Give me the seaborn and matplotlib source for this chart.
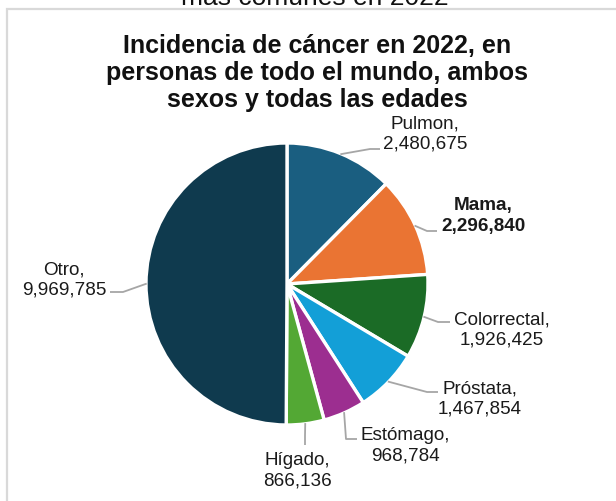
import numpy as np
import matplotlib
matplotlib.use("Agg")
import matplotlib.pyplot as plt
import seaborn as sns
from matplotlib.patches import Rectangle

sns.set_theme(style="white")
plt.rcParams['font.family'] = ['Liberation Sans', 'DejaVu Sans']

# ---- data ----
categories = ["Pulmon", "Mama", "Colorrectal", "Próstata", "Estómago", "Hígado", "Otro"]
values = [2480675, 2296840, 1926425, 1467854, 968784, 866136, 9969785]
colors = ["#1a5e80", "#ea7433", "#1b6b26", "#139fd7", "#9c2e90", "#53a834", "#0f3a4e"]
bold_labels = ["Mama"]
title = "Incidencia de cáncer en 2022, en\npersonas de todo el mundo, ambos\nsexos y todas las edades"
top_text = "más comunes en 2022"

W, H = 616, 502
fig = plt.figure(figsize=(W / 100, H / 100), dpi=100)

# pie geometry in pixels
cx, cy, R = 287, 285, 141
ax = fig.add_axes([(cx - R) / W, 1 - (cy + R) / H, 2 * R / W, 2 * R / H])
wedges, _ = ax.pie(values, colors=colors, startangle=90, counterclock=False,
                   radius=1, wedgeprops=dict(edgecolor="white", linewidth=2.4))
ax.set_xlim(-1, 1)
ax.set_ylim(-1, 1)
ax.set_aspect("equal")
ax.axis("off")

def px2d(px, py):
    return ((px - cx) / R, (cy - py) / R)

# label layout (pixel positions of text centers, leader elbow and end)
layout = {
    "Pulmon":      dict(text=(425, 134), elbow=(370, 150), end=(380, 150)),
    "Mama":        dict(text=(483, 216), elbow=(427, 232), end=(437, 232)),
    "Colorrectal": dict(text=(502, 330), elbow=(438, 323), end=(450, 323)),
    "Próstata":    dict(text=(480, 399), elbow=(427, 393), end=(438, 393)),
    "Estómago":    dict(text=(405, 446), elbow=(346, 440), end=(357, 440)),
    "Hígado":      dict(text=(297, 471), elbow=(305, 437), end=(305, 446)),
    "Otro":        dict(text=(64, 280), elbow=(123, 293), end=(110, 293)),
}

for w, cat, val in zip(wedges, categories, values):
    mid = np.deg2rad((w.theta1 + w.theta2) / 2)
    sx, sy = np.cos(mid) * 0.995, np.sin(mid) * 0.995
    L = layout[cat]
    ex, ey = px2d(*L["elbow"])
    nx, ny = px2d(*L["end"])
    ax.plot([sx, ex, nx], [sy, ey, ny], color="#a6a6a6", lw=1.3, clip_on=False,
            solid_capstyle="butt")
    tx, ty = L["text"]
    fig.text(tx / W, 1 - ty / H, f"{cat},\n{val:,}", ha="center", va="center",
             fontsize=13.6, color="#1a1a1a", linespacing=1.28,
             fontweight="bold" if cat in bold_labels else "normal")

fig.text(317 / W, 1 - 73 / H, title, ha="center", va="center", fontsize=18,
         fontweight="bold", color="#111111", linespacing=1.18)

fig.text(315 / W, 1 - 5 / H, top_text, ha="center", va="baseline", fontsize=19,
         color="#111111")

# chart area border
fig.add_artist(Rectangle((7 / W, -0.1), 1.2, 1 - 10 / H + 0.1, transform=fig.transFigure,
                         fill=False, edgecolor="#d9d9d9", linewidth=1.6))

fig.savefig("out.png", dpi=100)
